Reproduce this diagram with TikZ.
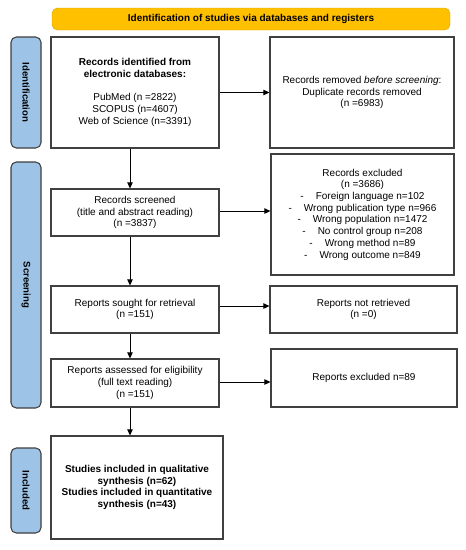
\documentclass[tikz,border=0pt]{standalone}
\usepackage{fontspec}
\setmainfont{Liberation Sans}
\usetikzlibrary{arrows.meta}
\definecolor{bannerfill}{HTML}{FFC000}
\definecolor{sidefill}{HTML}{9DC3E6}
\definecolor{edgegray}{HTML}{404040}
\tikzset{
  box/.style={draw=edgegray, line width=0.8pt, fill=white, align=center, inner sep=0pt,
    font=\fontsize{7.5pt}{8.8pt}\selectfont},
  side/.style={draw=edgegray, line width=0.8pt, fill=sidefill, rounded corners=4pt, inner sep=0pt,
    font=\fontsize{7.2pt}{8.6pt}\selectfont\bfseries},
  banner/.style={fill=bannerfill, draw=bannerfill!85!black, line width=0.3pt, rounded corners=4pt, inner sep=0pt,
    font=\fontsize{7.5pt}{8.8pt}\selectfont\bfseries},
  arr/.style={draw=black, line width=0.75pt, -{Triangle[length=4.5pt,width=4pt]}},
}
\newcommand{\dashitem}[1]{-\hspace{9pt}#1}
\begin{document}
\begin{tikzpicture}[x=0.75pt,y=-0.75pt]
\useasboundingbox (0,0) rectangle (465,550);
\fill[white] (0,0) rectangle (465,550);

\node[banner, minimum width=398*0.75pt, minimum height=22*0.75pt] (ban) at (251,19)
  {Identification of studies via databases and registers};

\node[side, minimum width=30*0.75pt, minimum height=111*0.75pt] (sid) at (26,92.5)
  {\rotatebox{-90}{Identification}};
\node[side, minimum width=30*0.75pt, minimum height=246*0.75pt] (sscr) at (26,285)
  {\rotatebox{-90}{Screening}};
\node[side, minimum width=30*0.75pt, minimum height=85*0.75pt] (sinc) at (26,490.5)
  {\rotatebox{-90}{Included}};

\node[box, minimum width=168*0.75pt, minimum height=111*0.75pt] (ident) at (135,92.5)
  {\textbf{Records identified from}\\\textbf{electronic databases:}\\[8.8pt]
   PubMed (n =2822)\\SCOPUS (n=4607)\\Web of Science (n=3391)};
\node[box, minimum width=184*0.75pt, minimum height=111*0.75pt] (dup) at (362,92.5)
  {Records removed \textit{before screening}:\\Duplicate records removed\\(n =6983)};

\node[box, minimum width=168*0.75pt, minimum height=47*0.75pt] (scr) at (135,212.5)
  {Records screened\\(title and abstract reading)\\(n =3837)};
\node[box, minimum width=183*0.75pt, minimum height=121*0.75pt] (exc) at (362.5,214.5)
  {Records excluded\\(n =3686)\\
   \dashitem{Foreign language n=102}\\
   \dashitem{Wrong publication type n=966}\\
   \dashitem{Wrong population n=1472}\\
   \dashitem{No control group n=208}\\
   \dashitem{Wrong method n=89}\\
   \dashitem{Wrong outcome n=849}};

\node[box, minimum width=168*0.75pt, minimum height=47*0.75pt] (sou) at (135,309.5)
  {Reports sought for retrieval\\(n =151)};
\node[box, minimum width=187*0.75pt, minimum height=47*0.75pt] (nret) at (363.5,309.5)
  {Reports not retrieved\\(n =0)};

\node[box, minimum width=168*0.75pt, minimum height=48*0.75pt] (ass) at (135,383)
  {Reports assessed for eligibility\\(full text reading)\\(n =151)};
\node[box, minimum width=186*0.75pt, minimum height=58*0.75pt] (rexc) at (364,378)
  {Reports excluded n=89};

\node[box, minimum width=172*0.75pt, minimum height=103*0.75pt] (inc) at (137,487.5)
  {\textbf{Studies included in qualitative}\\\textbf{synthesis (n=62)}\\
   \textbf{Studies included in quantitative}\\\textbf{synthesis (n=43)}};

% horizontal arrows
\draw[arr] (ident.east) -- (ident.east -| dup.west);
\draw[arr] ([yshift=1.1pt]scr.east) -- ([yshift=1.1pt]scr.east -| exc.west);
\draw[arr] ([yshift=2.6pt]sou.east) -- ([yshift=2.6pt]sou.east -| nret.west);
\draw[arr] ([yshift=0.75pt]ass.east) -- ([yshift=0.75pt]ass.east -| rexc.west);

% vertical arrows
\draw[arr] ([xshift=-3.75pt]ident.south) -- ([xshift=-3.75pt]ident.south |- scr.north);
\draw[arr] ([xshift=-3.75pt]scr.south) -- ([xshift=-3.75pt]scr.south |- sou.north);
\draw[arr] ([xshift=-3.75pt]sou.south) -- ([xshift=-3.75pt]sou.south |- ass.north);
\draw[arr] ([xshift=-3.75pt]ass.south) -- ([xshift=-3.75pt]ass.south |- inc.north);
\end{tikzpicture}
\end{document}
